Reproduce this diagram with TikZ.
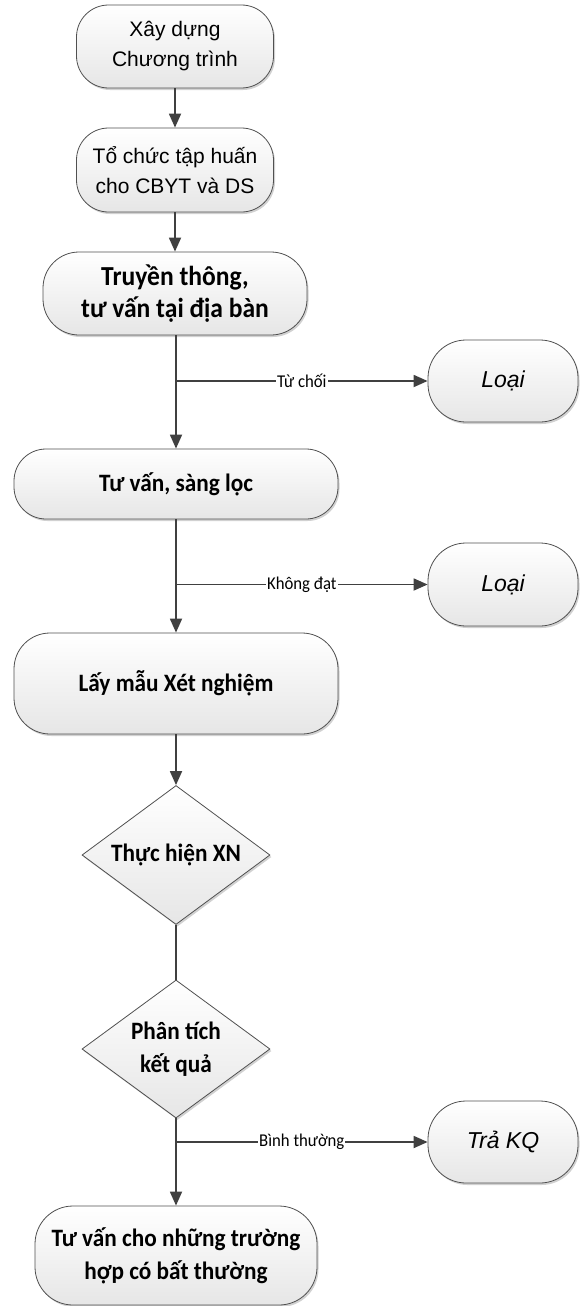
\documentclass[tikz,border=0pt]{standalone}
\usepackage{fontspec}
\setmainfont{Liberation Sans}
\newfontfamily\calib{Carlito}[FakeStretch=0.93]
\usetikzlibrary{shapes.geometric,arrows.meta,shadows}
\definecolor{edgegray}{HTML}{505050}
\definecolor{linegray}{HTML}{404040}
\definecolor{fillbot}{HTML}{E6E6E6}
\tikzset{
  boxshape/.style={draw=edgegray, line width=0.8pt, top color=white, bottom color=fillbot,
    align=center, inner sep=0pt, text=black,
    drop shadow={shadow xshift=1.5pt, shadow yshift=-2pt, fill=black, opacity=0.18}},
  termbox/.style={boxshape, rectangle, rounded corners=#1},
  termbox/.default=32pt,
  decision/.style={boxshape, diamond, aspect=1.35},
  plainfont/.style={font=\fontsize{21}{30}\selectfont},
  boldfont/.style={font=\calib\bfseries\fontsize{25}{33}\selectfont},
  bigbold/.style={font=\calib\bfseries\fontsize{27.5}{32}\selectfont},
  italfont/.style={font=\itshape\fontsize{23}{28}\selectfont},
  flow/.style={draw=linegray, line width=1.8pt, -{Triangle[length=14pt,width=12pt]}},
  flowplain/.style={draw=linegray, line width=1.8pt},
  edgelabel/.style={fill=white, inner sep=1pt, font=\calib\fontsize{18}{20}\selectfont}
}
\begin{document}
\begin{tikzpicture}[x=1pt,y=-1pt]
\useasboundingbox (0,0) rectangle (579,1306);
\node[termbox, plainfont, minimum width=197pt, minimum height=83pt] (b1) at (175,46.5) {Xây dựng\\Chương trình};
\node[termbox, plainfont, minimum width=197pt, minimum height=84pt] (b2) at (175,170) {Tổ chức tập huấn\\cho CBYT và DS};
\node[termbox=36pt, bigbold, minimum width=264pt, minimum height=83pt] (b3) at (175,293.5) {Truyền thông,\\tư vấn tại địa bàn};
\node[termbox=38pt, italfont, minimum width=150pt, minimum height=82pt] (l1) at (503,381) {Loại};
\node[termbox=32pt, boldfont, minimum width=324pt, minimum height=70pt] (b4) at (176,484) {Tư vấn, sàng lọc};
\node[termbox=38pt, italfont, minimum width=150pt, minimum height=83pt] (l2) at (503,584.5) {Loại};
\node[termbox=36pt, boldfont, minimum width=324pt, minimum height=101pt] (b5) at (176,683.5) {Lấy mẫu Xét nghiệm};
\node[decision, boldfont, minimum width=188pt, minimum height=139pt] (d1) at (176,855) {Thực hiện XN};
\node[decision, boldfont, minimum width=188pt, minimum height=138pt] (d2) at (176,1049) {Phân tích\\kết quả};
\node[termbox=38pt, italfont, minimum width=150pt, minimum height=82pt] (tr) at (503,1142) {Trả KQ};
\node[termbox=38pt, boldfont, minimum width=282pt, minimum height=99pt] (b6) at (176,1255.5) {Tư vấn cho những trường\\hợp có bất thường};

\draw[flow] (b1.south) -- (b2.north);
\draw[flow] (b2.south) -- (b3.north);
\draw[flow] (b3.south -| b4.north) -- (b4.north);
\draw[flow] (b4.south) -- (b5.north);
\draw[flow] (b5.south) -- (d1.north);
\draw[flowplain] (d1.south) -- (d2.north);
\draw[flow] (d2.south) -- (b6.north);

\coordinate (j1) at (b4.north |- l1.west);
\coordinate (j2) at (b4.north |- l2.west);
\coordinate (j3) at (b6.north |- tr.west);
\draw[flow] (j1) -- node[edgelabel] {Từ chối} (l1.west);
\draw[flow] (j2) -- node[edgelabel] {Không đạt} (l2.west);
\draw[flow] (j3) -- node[edgelabel] {Bình thường} (tr.west);
\end{tikzpicture}
\end{document}
